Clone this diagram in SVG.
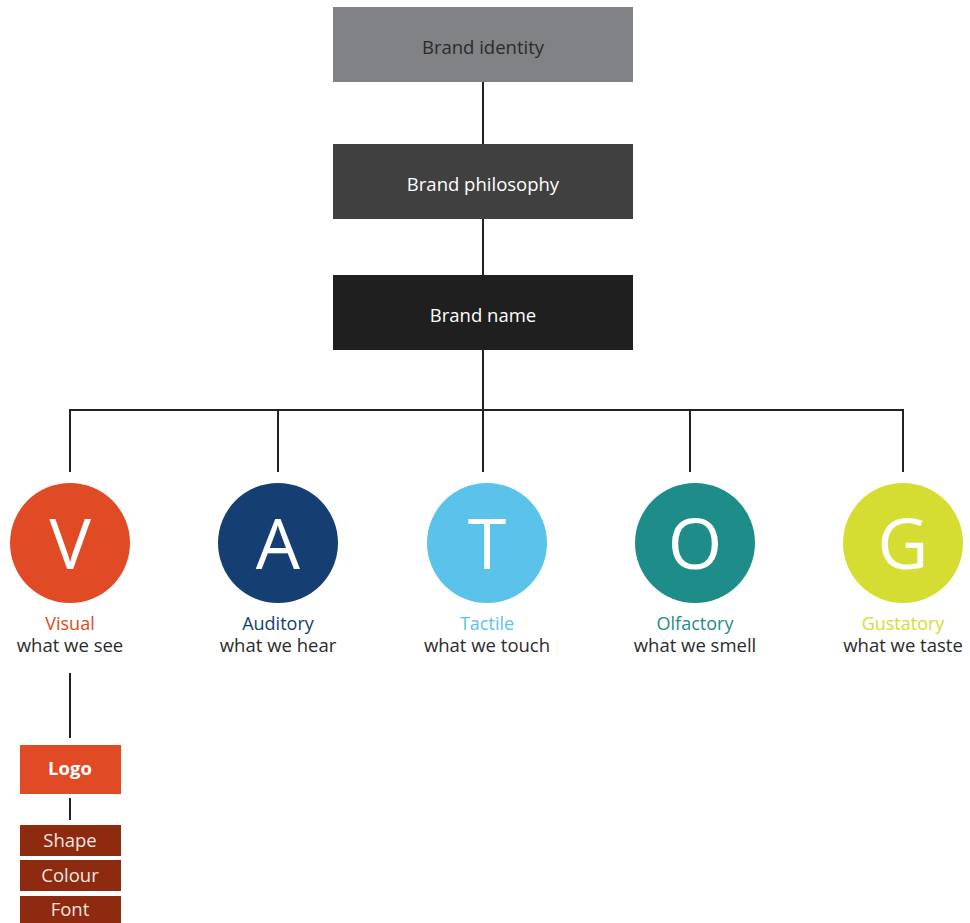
<svg xmlns="http://www.w3.org/2000/svg" width="970" height="923" viewBox="0 0 970 923">
<style>
text{font-family:"Open Sans","Noto Sans","Liberation Sans",sans-serif;text-anchor:middle}
.box{font-size:18.5px}
.big{font-size:70px;fill:#fff}
.name{font-size:18px}
.desc{font-size:18.5px;fill:#2b2b2b}
.small{font-size:18.5px;fill:#f2e6e0}
.conn{stroke:#222;stroke-width:2;fill:none}
</style>
<rect width="970" height="923" fill="#fff"/>
<g id="connectors">
<path class="conn" d="M483 82V144M483 219V275M483 350V472M70 472V410H903V472M278 410V472M690 410V472M70 673V738M70 798V820"/>
</g>
<g id="identity"><rect x="333" y="7" width="300" height="75" fill="#818285"/><text class="box" x="483" y="54" fill="#2b2b2b">Brand identity</text></g>
<g id="philosophy"><rect x="333" y="144" width="300" height="75" fill="#404040"/><text class="box" x="483" y="191" fill="#fff">Brand philosophy</text></g>
<g id="name"><rect x="333" y="275" width="300" height="75" fill="#1f1f20"/><text class="box" x="483" y="322" fill="#fff">Brand name</text></g>
<g id="visual"><circle cx="70" cy="543" r="60" fill="#e04a24"/><text class="big" x="70" y="569">V</text><text class="name" x="70" y="630" fill="#e04a24">Visual</text><text class="desc" x="70" y="652">what we see</text></g>
<g id="auditory"><circle cx="278" cy="543" r="60" fill="#153e72"/><text class="big" x="278" y="569">A</text><text class="name" x="278" y="630" fill="#153e72">Auditory</text><text class="desc" x="278" y="652">what we hear</text></g>
<g id="tactile"><circle cx="487" cy="543" r="60" fill="#5bc3ea"/><text class="big" x="487" y="569">T</text><text class="name" x="487" y="630" fill="#5bc3ea">Tactile</text><text class="desc" x="487" y="652">what we touch</text></g>
<g id="olfactory"><circle cx="695" cy="543" r="60" fill="#1e8c88"/><text class="big" x="695" y="569">O</text><text class="name" x="695" y="630" fill="#1e8c88">Olfactory</text><text class="desc" x="695" y="652">what we smell</text></g>
<g id="gustatory"><circle cx="903" cy="543" r="60" fill="#d5dd32"/><text class="big" x="903" y="569">G</text><text class="name" x="903" y="630" fill="#d5dd32">Gustatory</text><text class="desc" x="903" y="652">what we taste</text></g>
<g id="logo"><rect x="20" y="745" width="101" height="49" fill="#e04a24"/><text x="70" y="775" font-size="18.5" font-weight="bold" fill="#fff">Logo</text></g>
<g id="shape"><rect x="20" y="825" width="101" height="31" fill="#8e2a10"/><text class="small" x="70" y="847">Shape</text></g>
<g id="colour"><rect x="20" y="860" width="101" height="31" fill="#8e2a10"/><text class="small" x="70" y="882">Colour</text></g>
<g id="font"><rect x="20" y="896" width="101" height="27" fill="#8e2a10"/><text class="small" x="70" y="916">Font</text></g>
</svg>
